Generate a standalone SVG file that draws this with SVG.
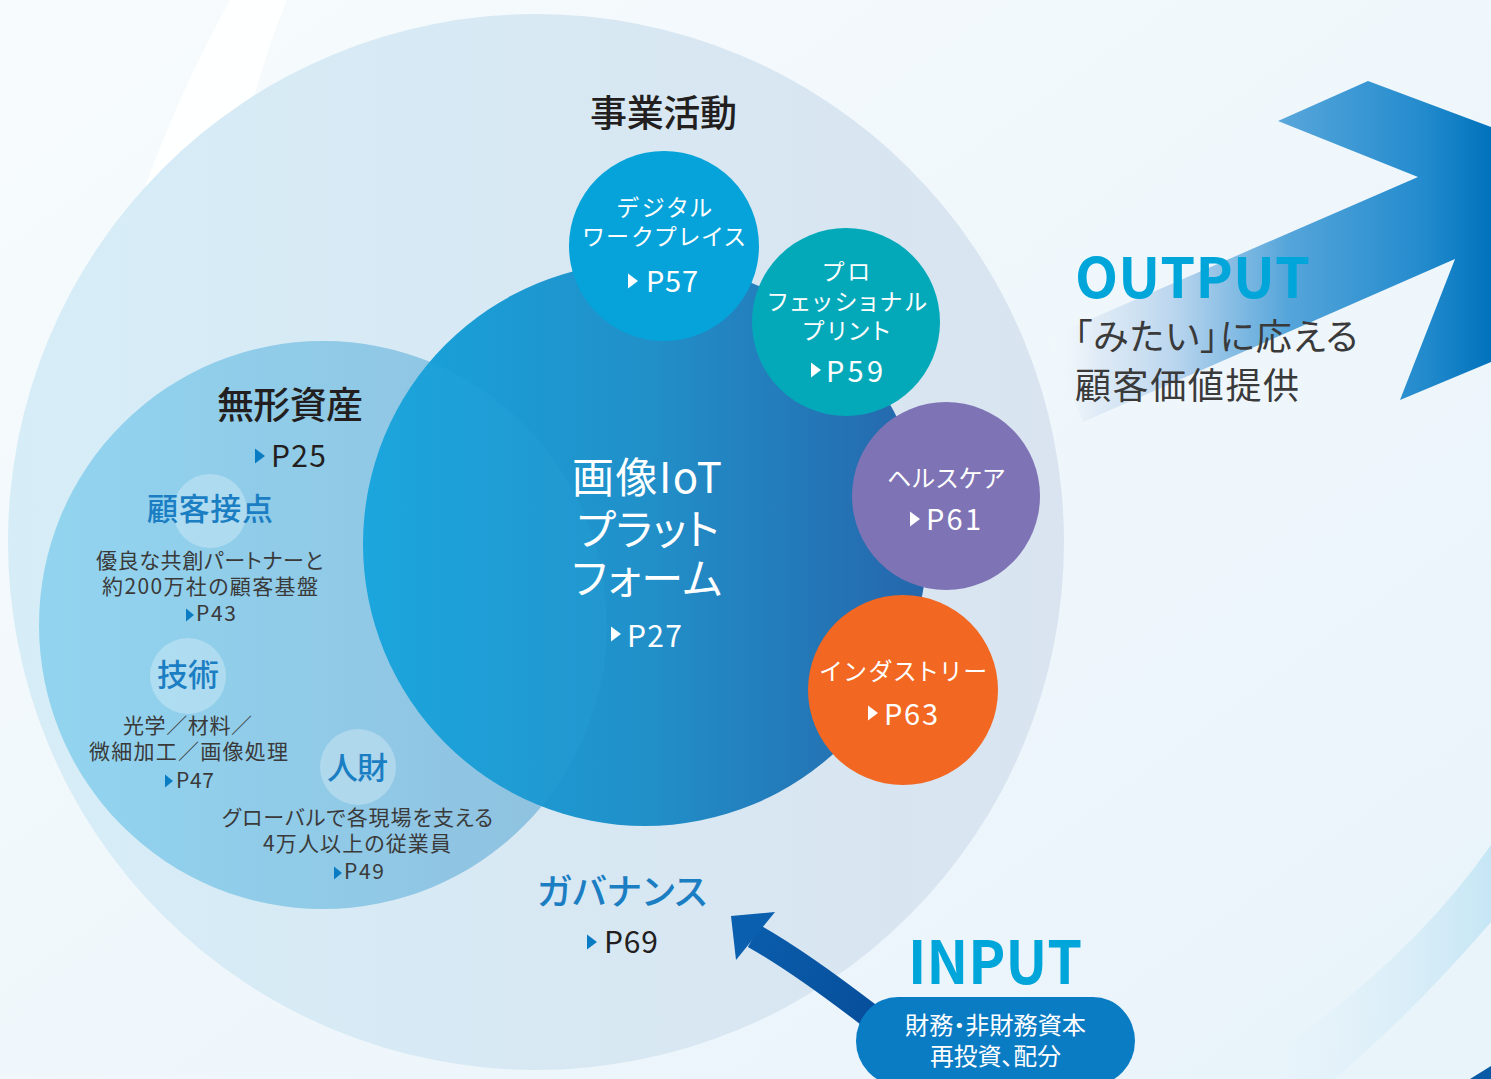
<svg xmlns="http://www.w3.org/2000/svg" width="1491" height="1079" viewBox="0 0 1491 1079">
<defs>
<style>
text{font-family:'Noto Sans CJK JP','Noto Sans',sans-serif;font-feature-settings:'palt';}
.dk{fill:#231f20;}
.gy{fill:#3a3a3a;}
.bl{fill:#1b7ec3;}
.wh{fill:#ffffff;}
.cy{fill:#00a5d9;}
.m{font-weight:500;}
.b{font-weight:700;}
.tb{fill:#0a7cc4;}
.tw{fill:#ffffff;}
</style>
<linearGradient id="bg" x1="0" y1="0" x2="1" y2="1">
<stop offset="0" stop-color="#f7fbfd"/>
<stop offset="1" stop-color="#e8f3fa"/>
</linearGradient>
<linearGradient id="gMain" gradientUnits="userSpaceOnUse" x1="8" y1="0" x2="1065" y2="0">
<stop offset="0" stop-color="#d6edf7"/>
<stop offset="1" stop-color="#d9e4f0"/>
</linearGradient>
<linearGradient id="gInt" gradientUnits="userSpaceOnUse" x1="40" y1="0" x2="606" y2="0">
<stop offset="0" stop-color="#9fd9f1"/>
<stop offset="1" stop-color="#9ac2de"/>
</linearGradient>
<linearGradient id="gPlat" gradientUnits="userSpaceOnUse" x1="363" y1="0" x2="927" y2="0">
<stop offset="0" stop-color="#17a4dc"/>
<stop offset="0.5" stop-color="#2190c9"/>
<stop offset="1" stop-color="#2566ab"/>
</linearGradient>
<linearGradient id="gOut" gradientUnits="userSpaceOnUse" x1="1040" y1="0" x2="1491" y2="0">
<stop offset="0" stop-color="#ffffff" stop-opacity="0"/>
<stop offset="0.12" stop-color="#dde9f5" stop-opacity="0.8"/>
<stop offset="0.3" stop-color="#b9d5ee"/>
<stop offset="0.55" stop-color="#55a5da"/>
<stop offset="0.85" stop-color="#238bcd"/>
<stop offset="1" stop-color="#0072bc"/>
</linearGradient>
<linearGradient id="gIn" gradientUnits="userSpaceOnUse" x1="730" y1="915" x2="870" y2="1015">
<stop offset="0" stop-color="#0a5fae"/>
<stop offset="1" stop-color="#074f9c"/>
</linearGradient>
<linearGradient id="gBand" gradientUnits="userSpaceOnUse" x1="1250" y1="0" x2="1491" y2="0">
<stop offset="0" stop-color="#e4f2fa" stop-opacity="0"/>
<stop offset="1" stop-color="#c6e6f5"/>
</linearGradient>
<path id="tri" d="M0,-7.5 L10,0 L0,7.5 Z"/>
<path id="tris" d="M0,-6.5 L8,0 L0,6.5 Z"/>
</defs>

<!-- background -->
<rect width="1491" height="1079" fill="url(#bg)"/>
<path d="M230,0 Q182,85 140,200 L240,150 Q262,60 287,0 Z" fill="#ffffff" opacity="0.9"/>
<path d="M1491,845 Q1400,975 1235,1079 L1335,1079 Q1420,1005 1491,922 Z" fill="url(#gBand)"/>
<polygon points="1470,1079 1491,1066 1491,1079" fill="#0b5aa6"/>

<!-- output arrow -->
<g id="output-arrow">
<polygon points="1047,338 1418,177 1278,121 1368,81 1491,127 1491,362 1400,400 1455,259 1083,422" fill="url(#gOut)"/>
</g>

<!-- 事業活動 main circle -->
<g id="business">
<circle cx="536" cy="542" r="528" fill="url(#gMain)"/>
<text class="dk m" x="590" y="127" font-size="37" textLength="147">事業活動</text>
</g>

<!-- 無形資産 circle -->
<g id="intangible">
<circle cx="323" cy="625" r="284" fill="url(#gInt)"/>
</g>

<!-- platform circle -->
<g id="platform">
<circle cx="645" cy="544" r="282" fill="url(#gPlat)"/>
<circle cx="323" cy="625" r="284" fill="#3ab4e8" opacity="0.12"/>
<text class="wh" font-size="42"><tspan x="572" y="493" textLength="150">画像IoT</tspan><tspan x="577" y="545" textLength="142">プラット</tspan><tspan x="572" y="594" textLength="150">フォーム</tspan></text>
<use href="#tri" x="611" y="634" class="tw"/>
<text class="wh" x="627" y="647" font-size="30" textLength="55">P27</text>
</g>

<!-- intangible texts -->
<g id="intangible-labels">
<text class="dk m" x="217" y="419" font-size="37" textLength="146">無形資産</text>
<use href="#tri" x="255" y="456" class="tb"/>
<text class="dk" x="271" y="467" font-size="30" textLength="55">P25</text>
</g>

<g id="customer">
<circle cx="210" cy="511" r="37" fill="#ffffff" opacity="0.28"/>
<text class="bl m" x="147" y="520" font-size="31" textLength="126">顧客接点</text>
<text class="gy" font-size="21"><tspan x="96" y="568" textLength="227">優良な共創パートナーと</tspan><tspan x="102" y="594" textLength="216">約200万社の顧客基盤</tspan><tspan x="196" y="621" textLength="40">P43</tspan></text>
<use href="#tris" x="186" y="615" class="tb"/>
</g>

<g id="technology">
<circle cx="188" cy="676" r="38" fill="#ffffff" opacity="0.28"/>
<text class="bl m" x="157" y="686" font-size="31" textLength="62">技術</text>
<text class="gy" font-size="21"><tspan x="123" y="733" textLength="129">光学／材料／</tspan><tspan x="89" y="759" textLength="199">微細加工／画像処理</tspan><tspan x="176" y="788" textLength="38">P47</tspan></text>
<use href="#tris" x="165" y="781" class="tb"/>
</g>

<g id="people">
<circle cx="358" cy="767" r="38" fill="#ffffff" opacity="0.28"/>
<text class="bl m" x="327" y="779" font-size="31" textLength="61">人財</text>
<text class="gy" font-size="21"><tspan x="222" y="825" textLength="271">グローバルで各現場を支える</tspan><tspan x="263" y="851" textLength="188">4万人以上の従業員</tspan><tspan x="344" y="879" textLength="40">P49</tspan></text>
<use href="#tris" x="334" y="873" class="tb"/>
</g>

<!-- business segments -->
<g id="digital-workplace">
<circle cx="664" cy="246" r="95" fill="#05a3d9"/>
<text class="wh" font-size="23"><tspan x="617" y="216" textLength="95">デジタル</tspan><tspan x="583" y="245" textLength="162">ワークプレイス</tspan></text>
<use href="#tri" x="628" y="281" class="tw"/>
<text class="wh" x="646" y="292" font-size="29" textLength="52">P57</text>
</g>

<g id="professional-print">
<circle cx="846" cy="322" r="94" fill="#04a9b9"/>
<text class="wh" font-size="23"><tspan x="823" y="280" textLength="47">プロ</tspan><tspan x="768" y="310" textLength="159">フェッショナル</tspan><tspan x="803" y="339" textLength="87">プリント</tspan></text>
<use href="#tri" x="811" y="370" class="tw"/>
<text class="wh" x="826" y="382" font-size="29" textLength="57">P59</text>
</g>

<g id="healthcare">
<circle cx="946" cy="496" r="94" fill="#7e73b4"/>
<text class="wh" x="887" y="487" font-size="24" textLength="118">ヘルスケア</text>
<use href="#tri" x="910" y="519" class="tw"/>
<text class="wh" x="926" y="530" font-size="29" textLength="55">P61</text>
</g>

<g id="industry">
<circle cx="903" cy="690" r="95" fill="#f26722"/>
<text class="wh" x="820" y="680" font-size="24" textLength="167">インダストリー</text>
<use href="#tri" x="868" y="713" class="tw"/>
<text class="wh" x="884" y="725" font-size="29" textLength="54">P63</text>
</g>

<g id="governance">
<text class="bl m" x="537" y="905" font-size="36" textLength="170">ガバナンス</text>
<use href="#tri" x="587" y="942" class="tb"/>
<text class="dk" x="604" y="953" font-size="30" textLength="54">P69</text>
</g>

<!-- output label -->
<g id="output">
<text class="cy b" x="1075" y="298" font-size="56" textLength="235">OUTPUT</text>
<text class="gy" font-size="36"><tspan x="1074" y="350" textLength="284">「みたい」に応える</tspan><tspan x="1075" y="399" textLength="224">顧客価値提供</tspan></text>
</g>

<!-- connectors -->
<g id="connectors">
<path d="M754,936 Q800,962 870,1016" fill="none" stroke="url(#gIn)" stroke-width="25"/>
<polygon points="731,916 775,912 736,960" fill="#0a5fae"/>
</g>

<!-- input -->
<g id="input">
<text class="cy b" x="908" y="984" font-size="60" textLength="174" lengthAdjust="spacingAndGlyphs">INPUT</text>
<rect x="856" y="997" width="279" height="88" rx="42" ry="44" fill="#0a7cc4"/>
<text class="wh" font-size="24" lengthAdjust="spacingAndGlyphs"><tspan x="905" y="1034" textLength="181" lengthAdjust="spacingAndGlyphs">財務・非財務資本</tspan><tspan x="930" y="1065" textLength="131" lengthAdjust="spacingAndGlyphs">再投資、配分</tspan></text>
</g>
</svg>
